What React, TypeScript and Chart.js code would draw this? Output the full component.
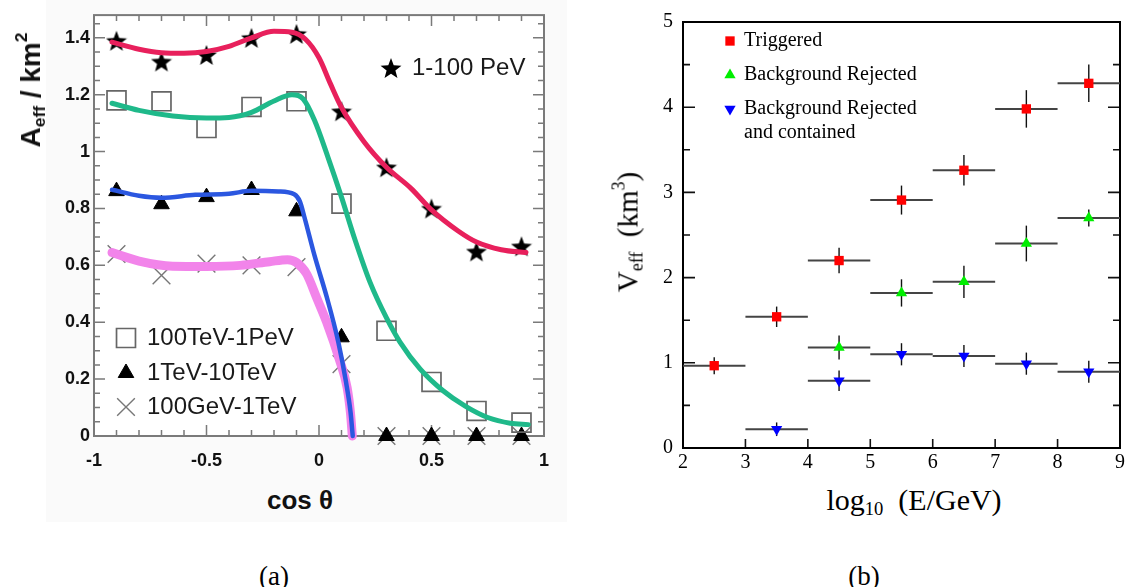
import React, { useEffect, useRef } from 'react';
import { Chart, registerables } from 'chart.js';

Chart.register(...registerables);

// ---------------- Panel (a): effective area vs cos(theta) ----------------
const cosTheta = [-0.9, -0.7, -0.5, -0.3, -0.1, 0.1, 0.3, 0.5, 0.7, 0.9];
const aeff1to100PeV = [1.39, 1.317, 1.34, 1.4, 1.414, 1.142, 0.945, 0.8, 0.649, 0.667];
const aeff100TeVto1PeV = [1.18, 1.177, 1.083, 1.157, 1.177, 0.817, 0.37, 0.19, 0.088, 0.047];
const aeff1TeVto10TeV = [0.861, 0.815, 0.84, 0.865, 0.79, 0.347, 0, 0, 0, 0];
const aeff100GeVto1TeV = [0.64, 0.565, 0.606, 0.6, 0.594, 0.253, 0, 0, 0, 0];

// fitted curves
const fitPeVX = [-0.92, -0.8, -0.7, -0.6, -0.5, -0.4, -0.3, -0.2, -0.12, -0.06, 0.0, 0.05, 0.1, 0.2, 0.3, 0.41, 0.5, 0.62, 0.7, 0.81, 0.92];
const fitPeVY = [1.385, 1.36, 1.348, 1.346, 1.352, 1.37, 1.4, 1.423, 1.42, 1.395, 1.33, 1.24, 1.155, 1.035, 0.945, 0.87, 0.795, 0.72, 0.682, 0.655, 0.645];
const fitTeV100X = [-0.92, -0.8, -0.65, -0.5, -0.4, -0.3, -0.2, -0.12, -0.07, -0.02, 0.04, 0.1, 0.16, 0.227, 0.3, 0.36, 0.45, 0.55, 0.65, 0.75, 0.85, 0.93];
const fitTeV100Y = [1.17, 1.145, 1.125, 1.118, 1.12, 1.138, 1.178, 1.2, 1.185, 1.11, 0.98, 0.84, 0.69, 0.54, 0.415, 0.33, 0.235, 0.16, 0.105, 0.065, 0.045, 0.04];
const fitTeV1X = [-0.92, -0.8, -0.7, -0.55, -0.4, -0.3, -0.18, -0.11, -0.085, -0.065, -0.02, 0.034, 0.086, 0.12, 0.14, 0.15];
const fitTeV1Y = [0.866, 0.845, 0.838, 0.848, 0.852, 0.862, 0.86, 0.85, 0.825, 0.77, 0.635, 0.49, 0.33, 0.19, 0.085, 0.0];
const fitGeV100X = [-0.92, -0.8, -0.65, -0.5, -0.35, -0.22, -0.14, -0.1, -0.055, -0.01, 0.034, 0.09, 0.125, 0.14, 0.148];
const fitGeV100Y = [0.645, 0.615, 0.597, 0.596, 0.6, 0.613, 0.62, 0.61, 0.57, 0.485, 0.4, 0.27, 0.17, 0.08, 0.0];

const seriesLabelsA = ['1-100 PeV', '100TeV-1PeV', '1TeV-10TeV', '100GeV-1TeV'];

// ---------------- Panel (b): effective volume vs energy ----------------
const log10E = [2.5, 3.5, 4.5, 5.5, 6.5, 7.5, 8.5];
const binHalfWidth = 0.5;
const vTriggered = [0.966, 1.54, 2.2, 2.91, 3.26, 3.98, 4.28];
const vTriggeredErr = [0.1, 0.12, 0.15, 0.17, 0.18, 0.22, 0.22];
const vBgRejected = [null, null, 1.18, 1.82, 1.95, 2.4, 2.7];
const vBgRejectedErr = [null, null, 0.14, 0.16, 0.19, 0.21, 0.1];
const vBgContained = [null, 0.22, 0.79, 1.1, 1.08, 0.99, 0.895];
const vBgContainedErr = [null, 0.08, 0.12, 0.13, 0.13, 0.13, 0.13];

const seriesLabelsB = ['Triggered', 'Background Rejected', 'Background Rejected\nand contained'];

// ---------------- helpers ----------------
const pts = (xs: number[], ys: (number | null)[], errs?: (number | null)[]) =>
  xs
    .map((x, i) => ({ x, y: ys[i], e: errs ? errs[i] : null }))
    .filter((p) => p.y !== null);

function makeStar(size: number, color: string) {
  const c = document.createElement('canvas');
  c.width = size;
  c.height = size;
  const ctx = c.getContext('2d')!;
  ctx.beginPath();
  const cx = size / 2;
  const cy = size / 2 + size * 0.05;
  for (let i = 0; i < 10; i++) {
    const r = i % 2 === 0 ? size / 2 : (size / 2) * 0.42;
    const a = -Math.PI / 2 + (i * Math.PI) / 5;
    ctx.lineTo(cx + r * Math.cos(a), cy + r * Math.sin(a));
  }
  ctx.closePath();
  ctx.fillStyle = color;
  ctx.fill();
  return c;
}

function drawMarker(ctx: CanvasRenderingContext2D, ds: any, x: number, y: number) {
  const style = ds.pointStyle;
  const r = ds.pointRadius;
  const rot = ((ds.pointRotation || 0) * Math.PI) / 180;
  ctx.save();
  if (typeof style !== 'string') {
    ctx.drawImage(style, x - style.width / 2, y - style.height / 2);
    ctx.restore();
    return;
  }
  ctx.fillStyle = ds.pointBackgroundColor;
  ctx.strokeStyle = ds.pointBorderColor;
  ctx.lineWidth = ds.pointBorderWidth;
  ctx.beginPath();
  if (style === 'rect') {
    const s = r * Math.SQRT1_2;
    ctx.rect(x - s, y - s, 2 * s, 2 * s);
  } else if (style === 'triangle') {
    let a = rot;
    ctx.moveTo(x + Math.sin(a) * r, y - Math.cos(a) * r);
    a += (2 * Math.PI) / 3;
    ctx.lineTo(x + Math.sin(a) * r, y - Math.cos(a) * r);
    a += (2 * Math.PI) / 3;
    ctx.lineTo(x + Math.sin(a) * r, y - Math.cos(a) * r);
    ctx.closePath();
  } else if (style === 'crossRot') {
    const d = Math.cos(Math.PI / 4) * r;
    ctx.moveTo(x - d, y - d);
    ctx.lineTo(x + d, y + d);
    ctx.moveTo(x + d, y - d);
    ctx.lineTo(x - d, y + d);
  }
  if (style !== 'crossRot') ctx.fill();
  if (ds.pointBorderWidth > 0) ctx.stroke();
  ctx.restore();
}

const framePlugin = {
  id: 'frameTicks',
  beforeDraw(chart: any, _a: any, o: any) {
    if (!o.plotBg) return;
    const { ctx, chartArea: c } = chart;
    ctx.save();
    ctx.fillStyle = o.plotBg;
    ctx.fillRect(c.left, c.top, c.right - c.left, c.bottom - c.top);
    ctx.restore();
  },
  beforeDatasetsDraw(chart: any, _a: any, o: any) {
    const { ctx, chartArea: c, scales } = chart;
    ctx.save();
    ctx.strokeStyle = o.tickColor;
    ctx.lineWidth = o.tickWidth;
    const drawAxis = (scale: any, cfg: any) => {
      const n = Math.floor((scale.max - scale.min) / cfg.minor + 1e-6);
      for (let i = 0; i <= n; i++) {
        const v = scale.min + i * cfg.minor;
        const q = v / cfg.major;
        const major = Math.abs(q - Math.round(q)) < 1e-6;
        const len = major ? cfg.majorLen : cfg.minorLen;
        const p = scale.getPixelForValue(v);
        ctx.beginPath();
        for (const side of cfg.sides) {
          if (side === 'bottom') { ctx.moveTo(p, c.bottom); ctx.lineTo(p, c.bottom - len); }
          if (side === 'top') { ctx.moveTo(p, c.top); ctx.lineTo(p, c.top + len); }
          if (side === 'left') { ctx.moveTo(c.left, p); ctx.lineTo(c.left + len, p); }
          if (side === 'right') { ctx.moveTo(c.right, p); ctx.lineTo(c.right - len, p); }
        }
        ctx.stroke();
      }
    };
    drawAxis(scales.x, o.x);
    drawAxis(scales.y, o.y);
    ctx.lineWidth = o.frameWidth;
    ctx.strokeStyle = o.frameColor;
    ctx.strokeRect(c.left, c.top, c.right - c.left, c.bottom - c.top);
    ctx.restore();
  },
};

const legendPlugin = {
  id: 'placedLegend',
  afterDraw(chart: any, _a: any, o: any) {
    const ctx = chart.ctx;
    ctx.save();
    ctx.font = o.font;
    ctx.fillStyle = o.color;
    ctx.textBaseline = 'middle';
    ctx.textAlign = 'left';
    for (const it of o.items) {
      const ds = chart.data.datasets[it.dataset];
      drawMarker(ctx, ds, it.x, it.y);
      const lines = String(ds.label).split('\n');
      lines.forEach((ln: string, i: number) => {
        ctx.fillStyle = o.color;
        ctx.fillText(ln, it.x + o.gap, it.y + (it.dy || 0) + i * o.lineHeight);
      });
    }
    ctx.restore();
  },
};

const errorBarPlugin = {
  id: 'errorBars',
  beforeDatasetsDraw(chart: any, _a: any, o: any) {
    const { ctx, scales } = chart;
    const xs = scales.x;
    const ys = scales.y;
    ctx.save();
    chart.data.datasets.forEach((ds: any) => {
      if (!ds.errorBars) return;
      ds.data.forEach((p: any) => {
        const px = xs.getPixelForValue(p.x);
        const py = ys.getPixelForValue(p.y);
        ctx.strokeStyle = o.hColor;
        ctx.lineWidth = o.hWidth;
        ctx.beginPath();
        ctx.moveTo(xs.getPixelForValue(p.x - binHalfWidth), py);
        ctx.lineTo(xs.getPixelForValue(p.x + binHalfWidth), py);
        ctx.stroke();
        if (p.e != null) {
          ctx.strokeStyle = o.vColor;
          ctx.lineWidth = o.vWidth;
          ctx.beginPath();
          ctx.moveTo(px, ys.getPixelForValue(p.y - p.e));
          ctx.lineTo(px, ys.getPixelForValue(p.y + p.e));
          ctx.stroke();
        }
      });
    });
    ctx.restore();
  },
};

const fmt = (v: number) => String(Math.round(v * 100) / 100);

function configA(): any {
  const star = makeStar(22, '#000');
  const curve = (xs: number[], ys: number[], color: string, width: number) => ({
    type: 'line',
    label: '',
    data: pts(xs, ys),
    borderColor: color,
    borderWidth: width,
    pointRadius: 0,
    cubicInterpolationMode: 'monotone',
    borderCapStyle: 'round',
    borderJoinStyle: 'round',
    fill: false,
    clip: false,
    order: 0,
  });
  return {
    type: 'line',
    data: {
      datasets: [
        {
          label: seriesLabelsA[0],
          data: pts(cosTheta, aeff1to100PeV),
          showLine: false,
          pointStyle: star,
          pointRadius: 11,
          pointBackgroundColor: '#000',
          pointBorderColor: '#000',
          pointBorderWidth: 0,
          clip: false,
          order: 1,
        },
        {
          label: seriesLabelsA[1],
          data: pts(cosTheta, aeff100TeVto1PeV),
          showLine: false,
          pointStyle: 'rect',
          pointRadius: 13.4,
          pointBackgroundColor: 'rgba(0,0,0,0)',
          pointBorderColor: '#666',
          pointBorderWidth: 1.7,
          clip: false,
          order: 1,
        },
        {
          label: seriesLabelsA[2],
          data: pts(cosTheta, aeff1TeVto10TeV),
          showLine: false,
          pointStyle: 'triangle',
          pointRadius: 9,
          pointBackgroundColor: '#000',
          pointBorderColor: '#000',
          pointBorderWidth: 1,
          clip: false,
          order: 1,
        },
        {
          label: seriesLabelsA[3],
          data: pts(cosTheta, aeff100GeVto1TeV),
          showLine: false,
          pointStyle: 'crossRot',
          pointRadius: 12.5,
          pointBackgroundColor: 'rgba(0,0,0,0)',
          pointBorderColor: '#777',
          pointBorderWidth: 1.4,
          clip: false,
          order: 2,
        },
        curve(fitPeVX, fitPeVY, '#e8205c', 5),
        curve(fitTeV100X, fitTeV100Y, '#1fb98a', 5),
        curve(fitTeV1X, fitTeV1Y, '#2b57e0', 4.5),
        curve(fitGeV100X, fitGeV100Y, '#f284ea', 9),
      ],
    },
    plugins: [framePlugin, legendPlugin],
    options: {
      responsive: false,
      animation: false,
      events: [],
      layout: { padding: { left: 0, right: 26, top: 10, bottom: 0 } },
      scales: {
        x: {
          type: 'linear',
          min: -1,
          max: 1,
          grid: { display: false, drawTicks: false },
          border: { display: false },
          ticks: {
            stepSize: 0.5,
            includeBounds: false,
            autoSkip: false,
            maxRotation: 0,
            padding: 14,
            color: '#111',
            font: { family: 'Liberation Sans', weight: 'bold', size: 18 },
            callback: (v: number) => fmt(v),
          },
          afterFit: (s: any) => { s.height = 44; },
        },
        y: {
          type: 'linear',
          min: 0,
          max: 1.48,
          grid: { display: false, drawTicks: false },
          border: { display: false },
          ticks: {
            stepSize: 0.2,
            includeBounds: false,
            autoSkip: false,
            padding: 4,
            color: '#111',
            font: { family: 'Liberation Sans', weight: 'bold', size: 18 },
            callback: (v: number) => fmt(v),
          },
          afterFit: (s: any) => { s.width = 94; },
        },
      },
      plugins: {
        legend: { display: false },
        tooltip: { enabled: false },
        frameTicks: {
          plotBg: '#ffffff',
          tickColor: '#7a7a7a',
          tickWidth: 1.5,
          frameColor: '#7a7a7a',
          frameWidth: 2,
          x: { minor: 0.1, major: 0.5, minorLen: 6, majorLen: 11, sides: ['bottom', 'top'] },
          y: { minor: 0.05, major: 0.2, minorLen: 6, majorLen: 11, sides: ['left', 'right'] },
        },
        placedLegend: {
          font: '24px "Liberation Sans"',
          color: '#1a1a1a',
          gap: 21,
          lineHeight: 26,
          items: [
            { dataset: 0, x: 391, y: 68 },
            { dataset: 1, x: 126, y: 338 },
            { dataset: 2, x: 126, y: 373 },
            { dataset: 3, x: 126, y: 407 },
          ],
        },
      },
    },
  };
}

function configB(): any {
  return {
    type: 'line',
    data: {
      datasets: [
        {
          label: seriesLabelsB[0],
          data: pts(log10E, vTriggered, vTriggeredErr),
          errorBars: true,
          showLine: false,
          pointStyle: 'rect',
          pointRadius: 6.6,
          pointBackgroundColor: '#ff0000',
          pointBorderColor: '#ff0000',
          pointBorderWidth: 0,
        },
        {
          label: seriesLabelsB[1],
          data: pts(log10E, vBgRejected, vBgRejectedErr),
          errorBars: true,
          showLine: false,
          pointStyle: 'triangle',
          pointRadius: 6.5,
          pointBackgroundColor: '#00ee00',
          pointBorderColor: '#00ee00',
          pointBorderWidth: 0,
        },
        {
          label: seriesLabelsB[2],
          data: pts(log10E, vBgContained, vBgContainedErr),
          errorBars: true,
          showLine: false,
          pointStyle: 'triangle',
          pointRotation: 180,
          pointRadius: 6.5,
          pointBackgroundColor: '#0000ff',
          pointBorderColor: '#0000ff',
          pointBorderWidth: 0,
        },
      ],
    },
    plugins: [framePlugin, errorBarPlugin, legendPlugin],
    options: {
      responsive: false,
      animation: false,
      events: [],
      layout: { padding: { left: 0, right: 7, top: 11, bottom: 0 } },
      scales: {
        x: {
          type: 'linear',
          min: 2,
          max: 9,
          grid: { display: false, drawTicks: false },
          border: { display: false },
          ticks: {
            stepSize: 1,
            includeBounds: false,
            autoSkip: false,
            maxRotation: 0,
            padding: 3,
            color: '#000',
            font: { family: 'Liberation Serif', size: 20 },
            callback: (v: number) => fmt(v),
          },
          afterFit: (s: any) => { s.height = 32; },
        },
        y: {
          type: 'linear',
          min: 0,
          max: 5,
          grid: { display: false, drawTicks: false },
          border: { display: false },
          ticks: {
            stepSize: 1,
            includeBounds: false,
            autoSkip: false,
            padding: 10,
            color: '#000',
            font: { family: 'Liberation Serif', size: 20 },
            callback: (v: number) => fmt(v),
          },
          afterFit: (s: any) => { s.width = 83; },
        },
      },
      plugins: {
        legend: { display: false },
        tooltip: { enabled: false },
        errorBars: { hColor: '#444', hWidth: 2, vColor: '#111', vWidth: 1.4 },
        frameTicks: {
          tickColor: '#111',
          tickWidth: 1.6,
          frameColor: '#000',
          frameWidth: 2,
          x: { minor: 1, major: 1, minorLen: 9, majorLen: 9, sides: ['bottom'] },
          y: { minor: 0.5, major: 1, minorLen: 7, majorLen: 12, sides: ['left', 'right'] },
        },
        placedLegend: {
          font: '20px "Liberation Serif"',
          color: '#000',
          gap: 14,
          lineHeight: 24,
          items: [
            { dataset: 0, x: 130, y: 41 },
            { dataset: 1, x: 130, y: 75 },
            { dataset: 2, x: 130, y: 109 },
          ],
        },
      },
    },
  };
}

const abs = (left: number, top: number, extra: any = {}) => ({
  position: 'absolute' as const,
  left,
  top,
  transform: 'translate(-50%, -50%)',
  whiteSpace: 'nowrap' as const,
  lineHeight: 1,
  ...extra,
});

const subStyle = { fontSize: '0.62em', verticalAlign: '-0.28em', lineHeight: 0 };
const supStyle = { fontSize: '0.62em', verticalAlign: '0.75em', lineHeight: 0 };

export default function App() {
  const refA = useRef<HTMLCanvasElement>(null);
  const refB = useRef<HTMLCanvasElement>(null);

  useEffect(() => {
    const a = new Chart(refA.current!, configA());
    const b = new Chart(refB.current!, configB());
    return () => {
      a.destroy();
      b.destroy();
    };
  }, []);

  return (
    <div style={{ position: 'fixed', left: 0, top: 0, width: 1128, height: 587, background: '#fff', overflow: 'hidden' }}>
      <div style={{ position: 'absolute', left: 46, top: 0, width: 521, height: 522, background: '#fafafa' }} />
      <canvas ref={refA} width={570} height={480} style={{ position: 'absolute', left: 0, top: 0 }} />
      <canvas ref={refB} width={528} height={480} style={{ position: 'absolute', left: 600, top: 0 }} />

      <div style={abs(31, 90, { transform: 'translate(-50%, -50%) rotate(-90deg)', font: 'bold 28px "Liberation Sans"', color: '#111' })}>
        A<span style={subStyle}>eff</span> / km<span style={supStyle}>2</span>
      </div>
      <div style={abs(300, 500, { font: 'bold 26px "Liberation Sans"', color: '#111' })}>cos θ</div>

      <div style={abs(628, 232, { transform: 'translate(-50%, -50%) rotate(-90deg)', font: '29px "Liberation Serif"', color: '#000' })}>
        V<span style={subStyle}>eff</span>&nbsp;&nbsp;(km<span style={supStyle}>3</span>)
      </div>
      <div style={abs(914, 500, { font: '30px "Liberation Serif"', color: '#000' })}>
        log<span style={subStyle}>10</span>&nbsp;&nbsp;(E/GeV)
      </div>

      <div style={abs(274, 576, { font: '27px "Liberation Serif"', color: '#000' })}>(a)</div>
      <div style={abs(864, 576, { font: '27px "Liberation Serif"', color: '#000' })}>(b)</div>
    </div>
  );
}
